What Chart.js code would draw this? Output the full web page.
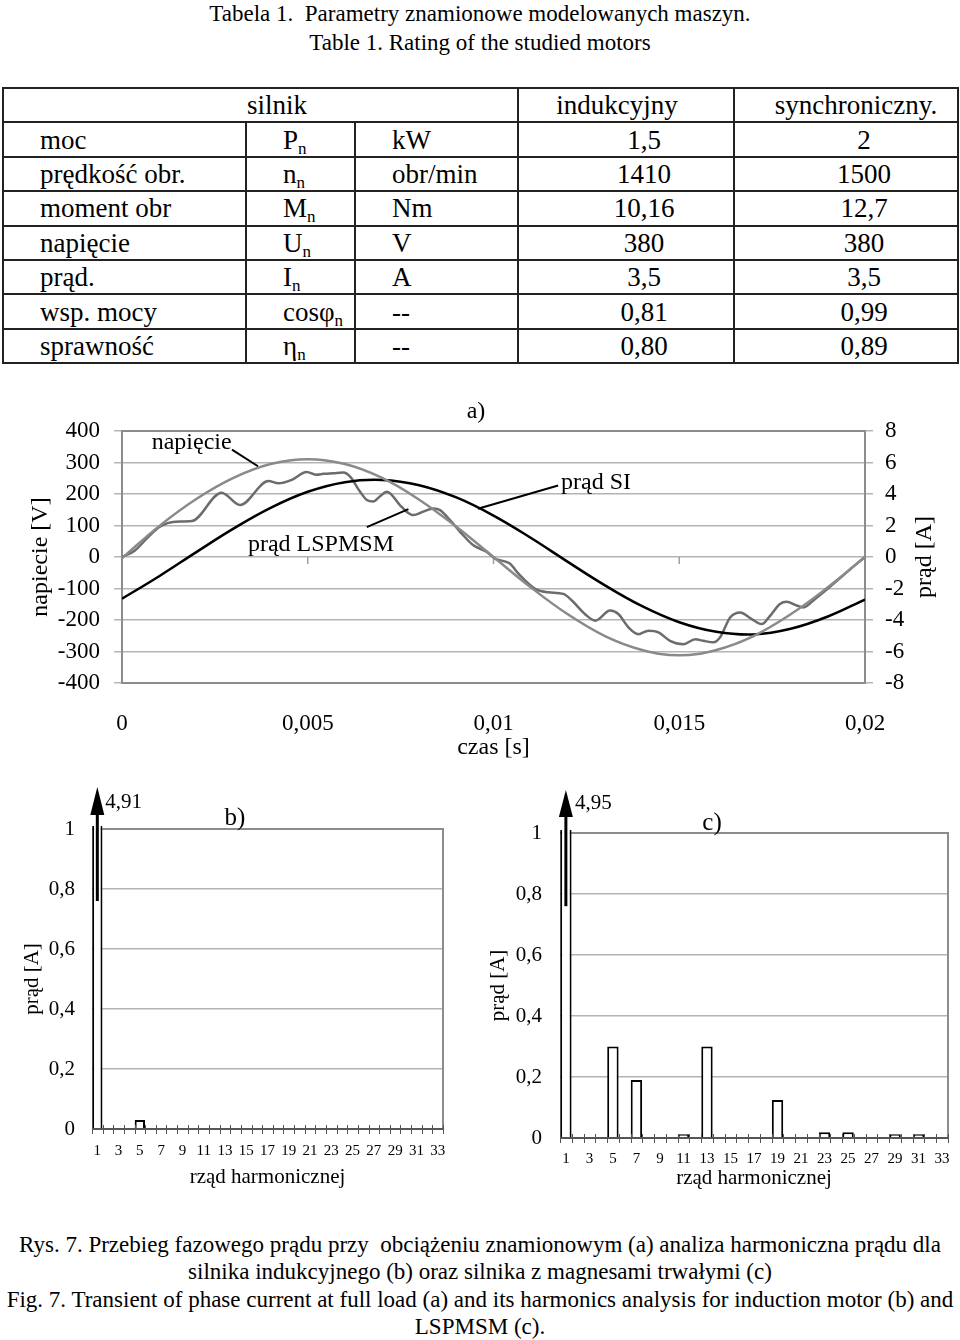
<!DOCTYPE html>
<html>
<head>
<meta charset="utf-8">
<title>Rys. 7 - przebieg prądu i analiza harmoniczna</title>
<script src="https://cdn.jsdelivr.net/npm/chart.js"></script>
<style>
  body { margin: 0; background: #fff; color: #000; font-family: 'Liberation Serif', 'Times New Roman', serif; }
  #page { position: relative; width: 960px; height: 1340px; overflow: hidden; }
  .cap { position: absolute; left: 0; width: 960px; text-align: center; white-space: pre; }
  #tab { position: absolute; left: 2px; top: 87px; width: 955px; border-collapse: collapse; table-layout: fixed; font-size: 27px; }
  #tab tr { height: 34.4px; }
  #tab td { border: 2px solid #222; padding: 0 0 0 36px; line-height: 28px; white-space: nowrap; }
  #tab td.s { padding-left: 36px; }
  #tab td.v { text-align: center; padding-left: 36px; }
  #tab td.hc { text-align: center; padding-left: 33px; }
  #tab td.h1 { text-align: center; padding: 0 18px 0 0; }
  #tab td.h2 { text-align: center; padding: 0 0 0 20px; }
  #tab sub { font-size: 17px; vertical-align: -5px; line-height: 0; }
  canvas { position: absolute; }
  #capt { position: absolute; left: 0; top: 1231px; width: 960px; text-align: center; font-size: 23px; line-height: 27.3px; }
  #capt div { white-space: nowrap; }
</style>
</head>
<body>
<div id="page">
  <div class="cap" style="top:2px; font-size:23px; line-height:24px;">Tabela 1.  Parametry znamionowe modelowanych maszyn.</div>
  <div class="cap" style="top:31px; font-size:23px; line-height:24px;">Table 1. Rating of the studied motors</div>

  <table id="tab">
    <colgroup><col style="width:243px"><col style="width:109px"><col style="width:163px"><col style="width:216px"><col style="width:224px"></colgroup>
    <tr><td colspan="3" class="hc">silnik</td><td class="h1">indukcyjny</td><td class="h2">synchroniczny.</td></tr>
    <tr><td>moc</td><td class="s">P<sub>n</sub></td><td class="s">kW</td><td class="v">1,5</td><td class="v">2</td></tr>
    <tr><td>prędkość obr.</td><td class="s">n<sub>n</sub></td><td class="s">obr/min</td><td class="v">1410</td><td class="v">1500</td></tr>
    <tr><td>moment obr</td><td class="s">M<sub>n</sub></td><td class="s">Nm</td><td class="v">10,16</td><td class="v">12,7</td></tr>
    <tr><td>napięcie</td><td class="s">U<sub>n</sub></td><td class="s">V</td><td class="v">380</td><td class="v">380</td></tr>
    <tr><td>prąd.</td><td class="s">I<sub>n</sub></td><td class="s">A</td><td class="v">3,5</td><td class="v">3,5</td></tr>
    <tr><td>wsp. mocy</td><td class="s">cosφ<sub>n</sub></td><td class="s">--</td><td class="v">0,81</td><td class="v">0,99</td></tr>
    <tr><td>sprawność</td><td class="s">η<sub>n</sub></td><td class="s">--</td><td class="v">0,80</td><td class="v">0,89</td></tr>
  </table>

  <canvas id="chartA" width="960" height="375" style="left:0; top:395px;"></canvas>
  <canvas id="chartB" width="480" height="410" style="left:0; top:780px;"></canvas>
  <canvas id="chartC" width="480" height="412" style="left:480px; top:780px;"></canvas>

  <div id="capt">
    <div>Rys. 7. Przebieg fazowego prądu przy&nbsp; obciążeniu znamionowym (a) analiza harmoniczna prądu dla</div>
    <div>silnika indukcyjnego (b) oraz silnika z magnesami trwałymi (c)</div>
    <div>Fig. 7. Transient of phase current at full load (a) and its harmonics analysis for induction motor (b) and</div>
    <div>LSPMSM (c).</div>
  </div>
</div>

<script>
  // a) przebiegi w czasie (s)
  const czas = [0, 0.001, 0.002, 0.003, 0.004, 0.005, 0.006, 0.007, 0.008, 0.009, 0.01,
                0.011, 0.012, 0.013, 0.014, 0.015, 0.016, 0.017, 0.018, 0.019, 0.02];
  // napiecie [V]
  const napiecie = [-4, 98, 184, 251, 295, 310, 295, 251, 182, 96, 0,
                    -96, -182, -251, -295, -312, -295, -251, -182, -96, 0];
  // prad silnika indukcyjnego [A]
  const pradSI = [-2.65, -1.22, 0.31, 1.80, 3.12, 4.14, 4.75, 4.89, 4.56, 3.78, 2.63,
                  1.22, -0.31, -1.80, -3.12, -4.14, -4.75, -4.92, -4.56, -3.78, -2.70];
  // prad LSPMSM [A], odczytany nieregularnie
  const lspCzas = [0, 0.00035, 0.00071, 0.00102, 0.00143, 0.00188, 0.00268, 0.00318, 0.00394, 0.00421,
                   0.00457, 0.00497, 0.00524, 0.00542, 0.00569, 0.00596, 0.00614, 0.00641, 0.00659, 0.00676,
                   0.00694, 0.00713, 0.00748, 0.00766, 0.00784, 0.00811, 0.00838, 0.00856, 0.00883, 0.0091,
                   0.00946, 0.00982, 0.01004, 0.01044, 0.01067, 0.01112, 0.01148, 0.01188, 0.01211, 0.01246,
                   0.01274, 0.01314, 0.01336, 0.01363, 0.0139, 0.01417, 0.01444, 0.01475, 0.01511, 0.01543,
                   0.01565, 0.01592, 0.0161, 0.01637, 0.01664, 0.01695, 0.01722, 0.01745, 0.01771, 0.01789,
                   0.01816, 0.01834, 0.01861, 0.01888, 0.01915, 0.01951, 0.01978, 0.02];
  const pradLSPMSM = [0, 0.42, 1.28, 1.92, 2.24, 2.28, 4.08, 3.30, 4.82, 4.68,
                      4.90, 5.40, 5.22, 5.28, 5.32, 5.36, 5.10, 4.14, 3.62, 3.52,
                      3.84, 4.14, 3.30, 2.88, 2.66, 2.88, 3.08, 2.98, 2.34, 1.60,
                      0.74, 0.32, -0.10, -0.42, -1.06, -2.02, -2.24, -2.34, -2.76, -3.62,
                      -4.04, -3.40, -3.62, -4.46, -4.90, -4.68, -4.78, -5.32, -5.54, -5.22,
                      -5.32, -5.42, -5.10, -3.84, -3.52, -3.94, -4.26, -3.72, -2.98, -2.84,
                      -3.08, -3.20, -2.76, -2.24, -1.70, -0.96, -0.42, 0];

  // b), c) harmoniczne pradu [A]
  const rzad = ['1','2','3','4','5','6','7','8','9','10','11','12','13','14','15','16','17',
                '18','19','20','21','22','23','24','25','26','27','28','29','30','31','32','33'];
  const harmSI = [4.91, 0, 0, 0, 0.03, 0, 0, 0, 0, 0, 0, 0, 0, 0, 0, 0, 0,
                  0, 0, 0, 0, 0, 0, 0, 0, 0, 0, 0, 0, 0, 0, 0, 0];
  const harmLSPMSM = [4.95, 0, 0, 0, 0.30, 0, 0.19, 0, 0, 0, 0.012, 0, 0.30, 0, 0, 0, 0,
                      0, 0.125, 0, 0, 0, 0.019, 0, 0.019, 0, 0, 0, 0.012, 0, 0.012, 0, 0];

  const serif = "'Liberation Serif', 'Times New Roman', serif";
  Chart.defaults.font.family = serif;
  Chart.defaults.color = '#000';

  const pts = (xs, ys) => xs.map((x, i) => ({ x: x, y: ys[i] }));
  const comma = v => String(Math.round(v * 1000) / 1000).replace('.', ',');

  function line(ctx, x1, y1, x2, y2) {
    ctx.beginPath(); ctx.moveTo(x1, y1); ctx.lineTo(x2, y2); ctx.stroke();
  }

  const annotA = {
    id: 'annotA',
    beforeDatasetsDraw(chart) {
      const { ctx, chartArea: a, scales } = chart;
      ctx.save();
      // kreski na osi zera
      ctx.strokeStyle = '#a0a0a0';
      ctx.lineWidth = 1.5;
      const y0 = scales.y.getPixelForValue(0);
      scales.x.ticks.forEach(t => {
        if (t.value > 0 && t.value < 0.02) {
          const x = scales.x.getPixelForValue(t.value);
          line(ctx, x, y0, x, y0 + 7);
        }
      });
      ctx.strokeStyle = '#8c8c8c';
      ctx.lineWidth = 2;
      ctx.strokeRect(a.left, a.top, a.right - a.left, a.bottom - a.top);
      ctx.restore();
    },
    afterDatasetsDraw(chart) {
      const { ctx, scales } = chart;
      const X = v => scales.x.getPixelForValue(v);
      const Y = v => scales.y.getPixelForValue(v);
      ctx.save();
      ctx.fillStyle = '#000';
      ctx.strokeStyle = '#000';
      ctx.lineWidth = 2;
      ctx.font = '24px ' + serif;
      ctx.textBaseline = 'middle';
      ctx.textAlign = 'left';
      ctx.fillText('napięcie', X(0.0008), Y(364));
      line(ctx, X(0.00296), Y(341), X(0.00366), Y(288));
      ctx.fillText('prąd LSPMSM', X(0.00339), Y(38));
      line(ctx, X(0.00659), Y(95), X(0.00771), Y(152));
      ctx.fillText('prąd SI', X(0.01182), Y(236));
      line(ctx, X(0.00958), Y(153), X(0.01174), Y(227));
      ctx.textAlign = 'center';
      ctx.fillText('a)', X(0.00953), Y(460));
      // tytul prawej osi
      ctx.translate(scales.y2.left + 60, (chart.chartArea.top + chart.chartArea.bottom) / 2);
      ctx.rotate(-Math.PI / 2);
      ctx.fillText('prąd [A]', 0, 0);
      ctx.restore();
    }
  };

  new Chart(document.getElementById('chartA'), {
    type: 'line',
    data: {
      datasets: [
        { label: 'napięcie', data: pts(czas, napiecie), yAxisID: 'y',
          borderColor: '#8a8a8a', borderWidth: 2.5, pointRadius: 0, tension: 0.4 },
        { label: 'prąd SI', data: pts(czas, pradSI), yAxisID: 'y2',
          borderColor: '#000', borderWidth: 2.5, pointRadius: 0, tension: 0.4 },
        { label: 'prąd LSPMSM', data: pts(lspCzas, pradLSPMSM), yAxisID: 'y2',
          borderColor: '#6c6c6c', borderWidth: 2.5, pointRadius: 0, cubicInterpolationMode: 'monotone' }
      ]
    },
    options: {
      responsive: false,
      animation: false,
      events: [],
      layout: { padding: { top: 36, left: 0, right: 0, bottom: 0 } },
      plugins: { legend: { display: false }, tooltip: { enabled: false } },
      scales: {
        x: {
          type: 'linear', min: 0, max: 0.02,
          grid: { display: false }, border: { display: false },
          ticks: { stepSize: 0.005, padding: 19, maxRotation: 0, font: { size: 23 }, callback: v => comma(v) },
          title: { display: true, text: 'czas [s]', font: { size: 24 }, padding: { top: 0, bottom: 8 } },
          afterFit: s => { s.height = 87; }
        },
        y: {
          position: 'left', min: -400, max: 400,
          grid: { color: '#b4b4b4', lineWidth: 1.5, tickLength: 8 }, border: { display: false },
          ticks: { stepSize: 100, padding: 14, font: { size: 23 } },
          title: { display: true, text: 'napiecie [V]', font: { size: 24 }, padding: { top: 26, bottom: 0 } },
          afterFit: s => { s.width = 122; }
        },
        y2: {
          position: 'right', min: -8, max: 8,
          grid: { drawOnChartArea: false, color: '#b4b4b4', lineWidth: 1.5, tickLength: 8 }, border: { display: false },
          ticks: { stepSize: 2, padding: 12, font: { size: 23 } },
          afterFit: s => { s.width = 95; }
        }
      }
    },
    plugins: [annotA]
  });

  function harmPlugin(letter, letterX, letterY, tip, base, labDx, labDy) {
    return {
      id: 'harm' + letter,
      beforeDatasetsDraw(chart) {
        const { ctx, chartArea: a } = chart;
        ctx.save();
        ctx.strokeStyle = '#8c8c8c';
        ctx.lineWidth = 2;
        ctx.beginPath();
        ctx.moveTo(a.left, a.top); ctx.lineTo(a.right, a.top); ctx.lineTo(a.right, a.bottom);
        ctx.stroke();
        ctx.restore();
      },
      afterDatasetsDraw(chart) {
        const { ctx, chartArea: a, scales } = chart;
        ctx.save();
        // os pozioma z kreskami
        ctx.strokeStyle = '#555';
        ctx.lineWidth = 2;
        line(ctx, a.left, a.bottom, a.right, a.bottom);
        ctx.lineWidth = 1;
        const cw = scales.x.getPixelForValue(1) - scales.x.getPixelForValue(0);
        for (let i = 0; i <= rzad.length; i++) {
          const x = Math.round(scales.x.getPixelForValue(i) - cw / 2) + 0.5;
          line(ctx, x, a.bottom - 4, x, a.bottom + 5);
        }
        // strzalka nad pierwsza harmoniczna
        const bar = chart.getDatasetMeta(0).data[0];
        const val = chart.data.datasets[0].data[0];
        ctx.strokeStyle = '#000';
        ctx.fillStyle = '#000';
        ctx.lineWidth = 3;
        line(ctx, bar.x, scales.y.getPixelForValue(0.76), bar.x, a.top - base);
        ctx.beginPath();
        ctx.moveTo(bar.x, a.top - tip);
        ctx.lineTo(bar.x - 7, a.top - base);
        ctx.lineTo(bar.x + 7, a.top - base);
        ctx.closePath();
        ctx.fill();
        ctx.font = '21px ' + serif;
        ctx.textAlign = 'left';
        ctx.textBaseline = 'middle';
        ctx.fillText(String(val).replace('.', ','), bar.x + labDx, a.top - labDy);
        ctx.font = '25px ' + serif;
        ctx.textAlign = 'center';
        ctx.fillText(letter, letterX, letterY);
        ctx.restore();
      }
    };
  }

  function harmChart(id, values, cfg) {
    return new Chart(document.getElementById(id), {
      type: 'bar',
      data: {
        labels: rzad,
        datasets: [{
          data: values,
          backgroundColor: '#fff',
          borderColor: '#000',
          borderWidth: 2,
          barPercentage: 0.97,
          categoryPercentage: 1,
          clip: { left: 4, top: 3, right: 4, bottom: 4 }
        }]
      },
      options: {
        responsive: false,
        animation: false,
        events: [],
        layout: { padding: { top: cfg.top, right: cfg.right, left: 0, bottom: 0 } },
        plugins: { legend: { display: false }, tooltip: { enabled: false } },
        scales: {
          x: {
            grid: { display: false }, border: { display: false },
            ticks: { autoSkip: false, maxRotation: 0, padding: cfg.xPad, font: { size: 15 },
                     callback: (v, i) => (i % 2 === 0 ? rzad[i] : '') },
            title: { display: true, text: 'rząd harmonicznej', font: { size: 21 }, padding: { top: 0, bottom: cfg.xTitlePad } },
            afterFit: s => { s.height = cfg.xHeight; }
          },
          y: {
            min: 0, max: 1,
            grid: { color: '#b4b4b4', lineWidth: 1.5, drawTicks: false }, border: { display: false },
            ticks: { stepSize: 0.2, padding: cfg.yPad, font: { size: 21 },
                     callback: v => (v === 0 || v === 1 ? String(v) : v.toFixed(1).replace('.', ',')) },
            title: { display: true, text: 'prąd [A]', font: { size: 21 }, padding: { top: cfg.yTitlePad, bottom: 0 } },
            afterFit: s => { s.width = cfg.yWidth; }
          }
        }
      },
      plugins: [harmPlugin(cfg.letter, cfg.letterX, cfg.letterY, cfg.tip, cfg.base, cfg.labDx, cfg.labDy)]
    });
  }

  harmChart('chartB', harmSI, {
    top: 49, right: 37, yWidth: 92, xHeight: 61, xPad: 5, xTitlePad: 0, yPad: 17, yTitlePad: 19.4,
    letter: 'b)', letterX: 235, letterY: 38, tip: 42, base: 14, labDx: 8, labDy: 27
  });
  harmChart('chartC', harmLSPMSM, {
    top: 53, right: 12, yWidth: 80, xHeight: 54, xPad: 4, xTitlePad: 1.4, yPad: 18, yTitlePad: 5.4,
    letter: 'c)', letterX: 232, letterY: 43, tip: 43, base: 16, labDx: 9, labDy: 30
  });
</script>
</body>
</html>
